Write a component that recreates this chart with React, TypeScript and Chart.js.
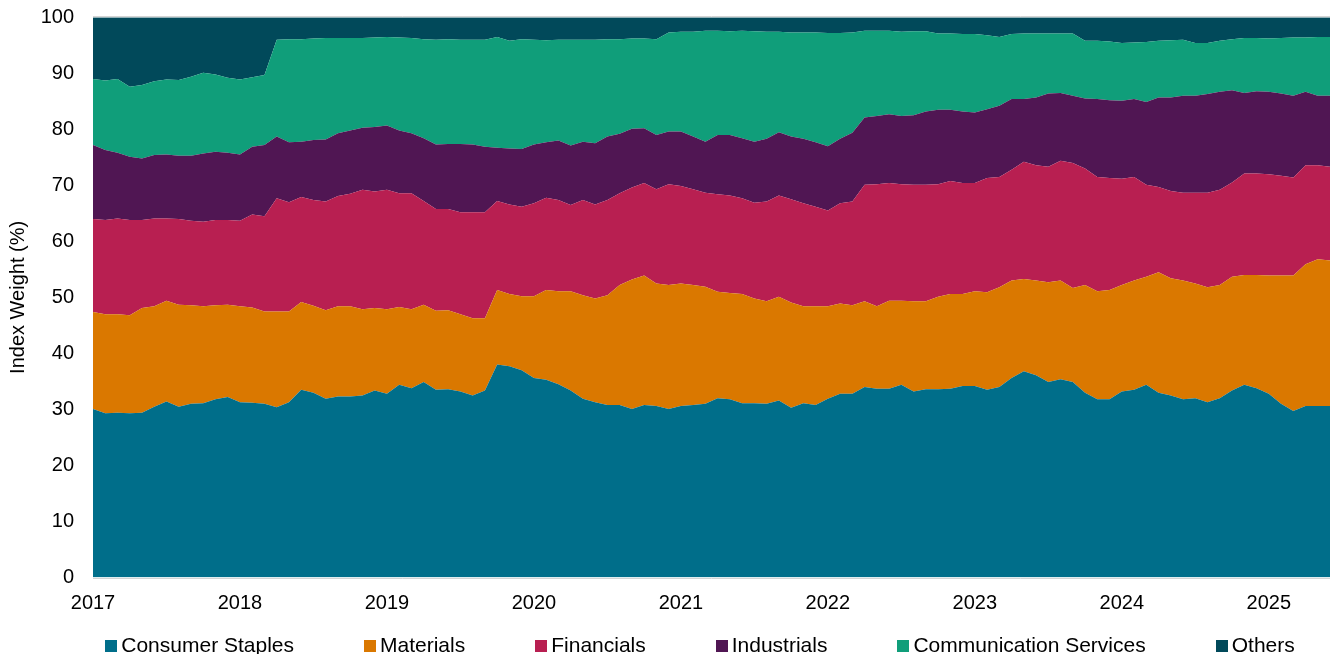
import { useEffect, useRef } from 'react';
import { Chart, registerables } from 'chart.js';

Chart.register(...registerables);

// Calendar used to build the monthly category axis (Jan 2017 – Jun 2025)
const years = ['2017', '2018', '2019', '2020', '2021', '2022', '2023', '2024', '2025'];
const monthNames = ['Jan', 'Feb', 'Mar', 'Apr', 'May', 'Jun', 'Jul', 'Aug', 'Sep', 'Oct', 'Nov', 'Dec'];
const lastYearMonths = 6;

// Index weights (%) by sector, monthly
const consumerStaples = [
  30.1, 29.3, 29.4, 29.3, 29.4, 30.5, 31.4, 30.5, 31.0, 31.1, 31.8, 32.2,
  31.3, 31.2, 31.0, 30.4, 31.3, 33.5, 33.0, 31.9, 32.3, 32.3, 32.5, 33.4,
  32.8, 34.4, 33.8, 34.9, 33.5, 33.6, 33.2, 32.5, 33.4, 38.0, 37.7, 37.0,
  35.6, 35.3, 34.5, 33.4, 31.9, 31.3, 30.8, 30.8, 30.1, 30.8, 30.6, 30.1,
  30.6, 30.8, 31.0, 32.0, 31.8, 31.1, 31.1, 31.0, 31.6, 30.3, 31.1, 30.8,
  31.9, 32.8, 32.8, 34.0, 33.7, 33.7, 34.4, 33.2, 33.6, 33.6, 33.7, 34.2,
  34.2, 33.5, 34.0, 35.6, 36.8, 36.1, 34.9, 35.4, 34.9, 33.0, 31.8, 31.8,
  33.2, 33.5, 34.4, 33.0, 32.5, 31.8, 32.0, 31.3, 32.0, 33.4, 34.4, 33.8,
  32.8, 31.0, 29.7, 30.6, 30.6, 30.6,
];

const materials = [
  17.3, 17.7, 17.6, 17.5, 18.7, 17.9, 18.0, 18.2, 17.6, 17.3, 16.8, 16.5,
  17.1, 17.0, 16.5, 17.1, 16.2, 15.7, 15.5, 15.8, 16.1, 16.1, 15.4, 14.7,
  15.1, 13.9, 14.1, 13.8, 14.1, 14.1, 13.8, 13.8, 12.9, 13.3, 12.9, 13.2,
  14.6, 16.0, 16.6, 17.7, 18.5, 18.5, 19.6, 21.4, 23.1, 23.1, 21.9, 22.1,
  21.9, 21.4, 20.9, 19.0, 19.0, 19.5, 18.7, 18.3, 18.5, 18.8, 17.3, 17.6,
  16.5, 16.1, 15.8, 15.3, 14.7, 15.7, 15.0, 16.1, 15.7, 16.5, 16.9, 16.4,
  16.9, 17.4, 17.8, 17.4, 16.5, 16.9, 17.8, 17.6, 16.8, 19.2, 19.3, 19.5,
  19.0, 19.5, 19.3, 21.5, 20.9, 21.2, 20.5, 20.5, 20.2, 20.3, 19.6, 20.2,
  21.1, 22.9, 24.2, 25.3, 26.2, 26.0,
];

const financials = [
  16.6, 16.8, 17.1, 17.0, 15.7, 15.7, 14.7, 15.3, 15.1, 15.1, 15.2, 15.1,
  15.3, 16.6, 17.0, 20.2, 19.5, 18.7, 18.9, 19.4, 19.7, 20.1, 21.3, 20.8,
  21.3, 20.3, 20.7, 18.5, 18.2, 18.1, 18.2, 18.9, 18.9, 15.9, 16.0, 16.0,
  16.6, 16.5, 16.3, 15.4, 17.0, 16.8, 17.0, 16.4, 16.4, 16.5, 16.8, 18.0,
  17.4, 17.1, 16.8, 17.4, 17.4, 17.1, 17.1, 17.8, 18.1, 18.4, 18.4, 17.8,
  17.1, 17.9, 18.5, 20.8, 21.8, 21.0, 20.8, 20.8, 20.8, 20.1, 20.2, 19.8,
  19.3, 20.4, 19.7, 19.8, 20.9, 20.6, 20.6, 21.4, 22.3, 20.8, 20.4, 20.0,
  19.0, 18.5, 16.4, 15.2, 15.6, 15.7, 16.2, 16.9, 17.0, 16.8, 18.1, 18.1,
  18.1, 17.8, 17.5, 17.7, 16.8, 16.7,
];

const industrials = [
  13.2, 12.5, 11.7, 11.3, 11.0, 11.3, 11.4, 11.3, 11.6, 12.2, 12.2, 12.0,
  11.8, 12.1, 12.7, 11.0, 10.7, 9.9, 10.7, 11.1, 11.2, 11.3, 11.1, 11.5,
  11.5, 11.2, 10.7, 11.2, 11.5, 11.6, 12.2, 12.1, 11.7, 9.5, 10.0, 10.3,
  10.5, 9.9, 10.6, 10.6, 10.4, 10.9, 11.3, 10.6, 10.5, 9.8, 9.7, 9.4,
  9.7, 9.4, 9.1, 10.6, 10.8, 10.7, 10.9, 11.2, 11.3, 11.2, 11.5, 11.5,
  11.5, 11.5, 12.3, 12.0, 12.2, 12.3, 12.2, 12.4, 13.1, 13.3, 12.7, 12.8,
  12.6, 12.3, 12.7, 12.6, 11.2, 12.1, 13.1, 12.1, 12.0, 12.5, 13.9, 13.9,
  13.9, 13.9, 14.8, 16.0, 16.7, 17.3, 17.3, 17.6, 17.5, 16.5, 14.4, 14.7,
  14.7, 14.7, 14.6, 13.1, 12.4, 12.7,
];

const communicationServices = [
  11.8, 12.4, 13.2, 12.5, 13.1, 13.2, 13.4, 13.5, 14.1, 14.4, 13.8, 13.4,
  13.4, 12.4, 12.5, 17.3, 18.4, 18.3, 18.1, 18.1, 17.0, 16.5, 16.0, 16.0,
  15.8, 16.6, 17.0, 17.7, 18.7, 18.7, 18.6, 18.7, 19.1, 19.8, 19.2, 19.6,
  18.7, 18.2, 18.0, 18.9, 18.2, 18.5, 17.4, 16.9, 16.1, 16.0, 17.1, 17.7,
  17.8, 18.7, 19.8, 18.6, 18.5, 19.2, 19.7, 19.1, 17.9, 18.6, 19.0, 19.6,
  20.2, 18.9, 17.9, 15.5, 15.2, 14.9, 15.0, 15.0, 14.3, 13.6, 13.6, 13.8,
  14.0, 13.2, 12.3, 11.6, 11.7, 11.4, 10.7, 10.6, 11.1, 10.3, 10.4, 10.5,
  10.3, 10.1, 10.7, 10.1, 10.2, 10.0, 9.4, 9.1, 9.1, 9.1, 9.8, 9.5,
  9.5, 9.9, 10.4, 9.7, 10.5, 10.5,
];

const others = [
  11.0, 11.3, 11.0, 12.4, 12.1, 11.4, 11.1, 11.2, 10.6, 9.9, 10.2, 10.8,
  11.1, 10.7, 10.3, 4.0, 3.9, 3.9, 3.8, 3.7, 3.7, 3.7, 3.7, 3.6,
  3.5, 3.6, 3.7, 3.9, 4.0, 3.9, 4.0, 4.0, 4.0, 3.5, 4.2, 3.9,
  4.0, 4.1, 4.0, 4.0, 4.0, 4.0, 3.9, 3.9, 3.8, 3.8, 3.9, 2.7,
  2.6, 2.6, 2.4, 2.4, 2.5, 2.4, 2.5, 2.6, 2.6, 2.7, 2.7, 2.7,
  2.8, 2.8, 2.7, 2.4, 2.4, 2.4, 2.6, 2.5, 2.5, 2.9, 2.9, 3.0,
  3.0, 3.2, 3.5, 3.0, 2.9, 2.9, 2.9, 2.9, 2.9, 4.2, 4.2, 4.3,
  4.6, 4.5, 4.4, 4.2, 4.1, 4.0, 4.6, 4.6, 4.2, 3.9, 3.7, 3.7,
  3.8, 3.7, 3.6, 3.6, 3.5, 3.5,
];

const seriesNames = [
  'Consumer Staples',
  'Materials',
  'Financials',
  'Industrials',
  'Communication Services',
  'Others',
];
const seriesValues = [consumerStaples, materials, financials, industrials, communicationServices, others];
const seriesColors = ['#006E8A', '#DA7800', '#B81F51', '#501653', '#109E7A', '#01495A'];

const yTicks = [0, 10, 20, 30, 40, 50, 60, 70, 80, 90, 100];
const yTitle = 'Index Weight (%)';

const months: string[] = [];
years.forEach((y, yi) => {
  const count = yi === years.length - 1 ? lastYearMonths : 12;
  for (let m = 0; m < count; m++) months.push(`${monthNames[m]} ${y}`);
});

const FONT = '"Liberation Sans", Arial, Helvetica, sans-serif';

// Thin grey rules along the top and bottom of the plot area
const plotFrame = {
  id: 'plotFrame',
  afterDatasetsDraw(chart: any) {
    const { ctx, chartArea } = chart;
    ctx.save();
    ctx.strokeStyle = '#d4d4d4';
    ctx.lineWidth = 1;
    ctx.beginPath();
    ctx.moveTo(chartArea.left, Math.round(chartArea.top) - 0.5);
    ctx.lineTo(chartArea.right, Math.round(chartArea.top) - 0.5);
    ctx.moveTo(chartArea.left, Math.round(chartArea.bottom) + 0.5);
    ctx.lineTo(chartArea.right, Math.round(chartArea.bottom) + 0.5);
    ctx.stroke();
    ctx.restore();
  },
};

// Single-row legend with small square swatches, laid out under the axis
const bottomLegend = {
  id: 'bottomLegend',
  afterDraw(chart: any) {
    const { ctx } = chart;
    const box = 12;
    const gap = 4;
    const spacing = 70;
    const baseline = 652;
    const centerX = 700;
    ctx.save();
    ctx.font = `21px ${FONT}`;
    const items = chart.data.datasets.map((ds: any) => ({
      text: ds.label as string,
      color: ds.backgroundColor as string,
      w: ctx.measureText(ds.label).width,
    }));
    const total =
      items.reduce((s: number, it: any) => s + box + gap + it.w, 0) + spacing * (items.length - 1);
    let x = centerX - total / 2;
    ctx.textBaseline = 'alphabetic';
    ctx.textAlign = 'left';
    items.forEach((it: any) => {
      ctx.fillStyle = it.color;
      ctx.fillRect(Math.round(x), baseline - box, box, box);
      ctx.fillStyle = '#000000';
      ctx.fillText(it.text, x + box + gap, baseline);
      x += box + gap + it.w + spacing;
    });
    ctx.restore();
  },
};

export default function App() {
  const canvasRef = useRef<HTMLCanvasElement | null>(null);

  useEffect(() => {
    document.body.style.margin = '0';
    const canvas = canvasRef.current;
    if (!canvas) return;

    const datasets = seriesNames.map((name, i) => ({
      label: name,
      data: seriesValues[i],
      backgroundColor: seriesColors[i],
      borderColor: seriesColors[i],
      borderWidth: 0,
      pointRadius: 0,
      pointHoverRadius: 0,
      tension: 0,
      fill: i === 0 ? 'origin' : '-1',
    }));

    const chart = new Chart(canvas, {
      type: 'line',
      data: { labels: months, datasets },
      plugins: [plotFrame, bottomLegend],
      options: {
        responsive: true,
        maintainAspectRatio: false,
        animation: false,
        layout: { padding: { top: 17.3, right: 0, bottom: 0, left: 0 } },
        font: { family: FONT },
        plugins: {
          legend: { display: false },
          title: { display: false },
          tooltip: { enabled: false },
        },
        scales: {
          x: {
            type: 'category',
            offset: false,
            grid: { display: false, drawTicks: true, tickLength: 14 },
            border: { display: false },
            ticks: {
              autoSkip: false,
              maxRotation: 0,
              minRotation: 0,
              padding: 0,
              color: '#000000',
              font: { family: FONT, size: 20 },
              callback: (_v: any, idx: number) => {
                const label = months[idx];
                return label && label.startsWith('Jan ') ? years[Math.floor(idx / 12)] : '';
              },
            },
            afterFit: (scale: any) => {
              scale.height = 76.5;
            },
          },
          y: {
            stacked: true,
            min: yTicks[0],
            max: yTicks[yTicks.length - 1],
            grid: { display: false, drawTicks: true, tickLength: 19 },
            border: { display: false },
            ticks: {
              stepSize: 10,
              padding: 0,
              color: '#000000',
              font: { family: FONT, size: 20 },
            },
            title: {
              display: true,
              text: yTitle,
              color: '#000000',
              font: { family: FONT, size: 20 },
              padding: { top: 6, bottom: 0 },
            },
            afterFit: (scale: any) => {
              scale.width = 93;
            },
          },
        },
      },
    } as any);

    return () => chart.destroy();
  }, []);

  return (
    <div style={{ position: 'absolute', left: 0, top: 0, width: 1330, height: 654 }}>
      <canvas ref={canvasRef} />
    </div>
  );
}
